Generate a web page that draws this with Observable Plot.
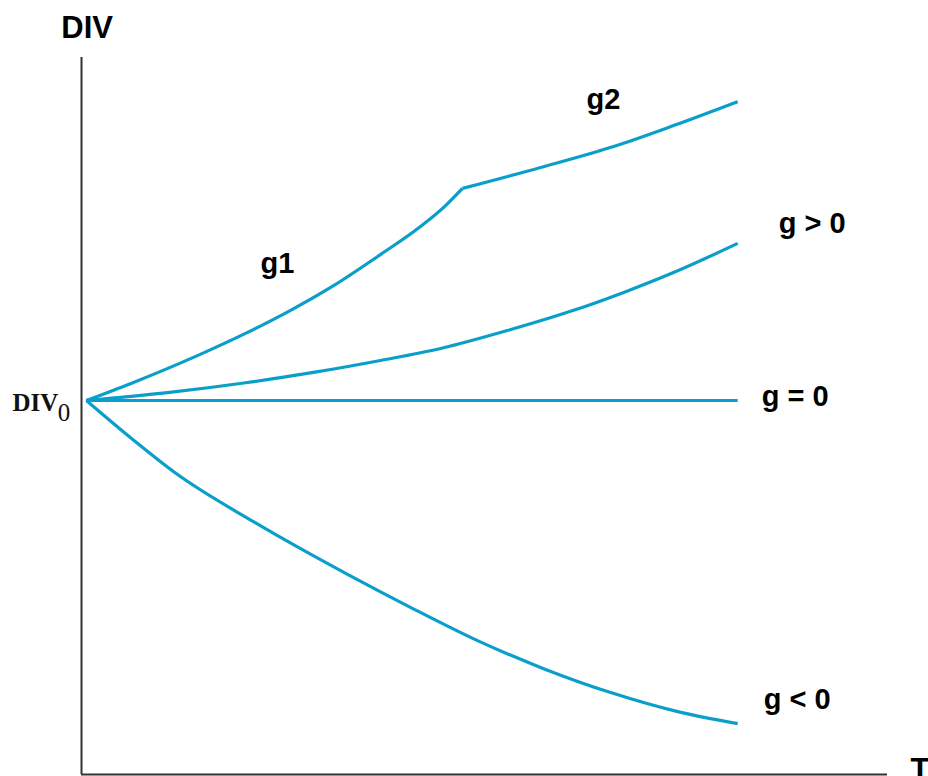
<!DOCTYPE html>
<html>
<head>
<meta charset="utf-8">
<script src="https://cdn.jsdelivr.net/npm/d3@7"></script>
<script src="https://cdn.jsdelivr.net/npm/@observablehq/plot@0.6"></script>
<style>
  html, body { margin: 0; padding: 0; background: #fff; }
  #chart svg { display: block; }
</style>
</head>
<body>
<div id="chart"></div>
<script>
// Dividend paths over time T, starting from DIV0 = 100.
// Each series is a list of [T, DIV] points.
const g1Path = [[0, 100], [1.35, 104.5], [3.41, 112.0], [4.95, 118.2], [6.27, 124.1], [7.59, 130.7], [9.03, 139.0], [10.26, 146.5], [11.03, 152.1], [11.55, 156.7]];
const g2Path = [[11.55, 156.7], [13.95, 162.3], [16.19, 167.9], [18.03, 173.5], [20, 179.9]];
const gPositive = [[0, 100], [2.49, 102.1], [4.95, 104.8], [6.97, 107.5], [9.03, 110.7], [10.88, 113.9], [12.93, 118.7], [14.96, 124.1], [16.5, 128.9], [18.03, 134.2], [20, 142.0]];
const gZero = [[0, 100], [20, 100]];
const gNegative = [[0, 100], [1.35, 90.1], [2.8, 80.2], [5.13, 67.6], [8.02, 53.5], [9.95, 44.7], [12.01, 35.8], [14.04, 28.3], [16.1, 21.9], [18.16, 16.8], [20, 13.6]];

// Curve labels: [text, T, DIV] (left edge, top of capitals)
const curveLabels = [["g1", 5.35, 139.6], ["g2", 15.36, 183.4], ["g > 0", 21.26, 150.3], ["g = 0", 20.74, 104.0], ["g < 0", 20.8, 23.0]];
// Axis titles
const axisTitles = [["DIV", -0.77, 202.9], ["T", 25.31, 4.5]];

const tMin = -0.15, tMax = 24.6;
const divMin = 0, divMax = 191.7;

const series = [
  ["g1", g1Path], ["g2", g2Path], ["pos", gPositive], ["zero", gZero], ["neg", gNegative]
];
const lineData = series.flatMap(([name, pts]) => pts.map(([t, v]) => ({name, t, v})));

const sans = "Liberation Sans, Arial, Helvetica, sans-serif";
const serif = "Liberation Serif, Times New Roman, serif";

const chart = Plot.plot({
  width: 928,
  height: 776,
  marginLeft: 81,
  marginRight: 41,
  marginTop: 57,
  marginBottom: 2,
  x: {domain: [tMin, tMax], axis: null},
  y: {domain: [divMin, divMax], axis: null},
  marks: [
    // axes
    Plot.ruleY([divMin], {x1: tMin, x2: tMax, stroke: "#333", strokeWidth: 2}),
    Plot.ruleX([tMin], {y1: divMin, y2: divMax, stroke: "#333", strokeWidth: 2}),
    // dividend paths
    Plot.line(lineData, {x: "t", y: "v", z: "name", curve: "monotone-x", stroke: "#0a9fcb", strokeWidth: 3.2, strokeLinejoin: "round", strokeLinecap: "butt"}),
    // labels
    Plot.text(curveLabels, {x: d => d[1], y: d => d[2], text: d => d[0], textAnchor: "start", lineAnchor: "top", fontSize: 29, fontWeight: "bold", fontFamily: sans, fill: "#000"}),
    Plot.text(axisTitles, {x: d => d[1], y: d => d[2], text: d => d[0], textAnchor: "start", lineAnchor: "top", fontSize: 31, fontWeight: "bold", fontFamily: sans, fill: "#000"}),
    // DIV0 label on the vertical axis
    Plot.text(["DIV"], {x: -2.27, y: 101.9, text: d => d, textAnchor: "start", lineAnchor: "top", fontSize: 25, fontWeight: "bold", fontFamily: serif, fill: "#111"}),
    Plot.text(["0"], {x: -0.88, y: 99.2, text: d => d, textAnchor: "start", lineAnchor: "top", fontSize: 25, fontFamily: serif, fill: "#111"})
  ]
});

document.getElementById("chart").append(chart);
</script>
</body>
</html>
